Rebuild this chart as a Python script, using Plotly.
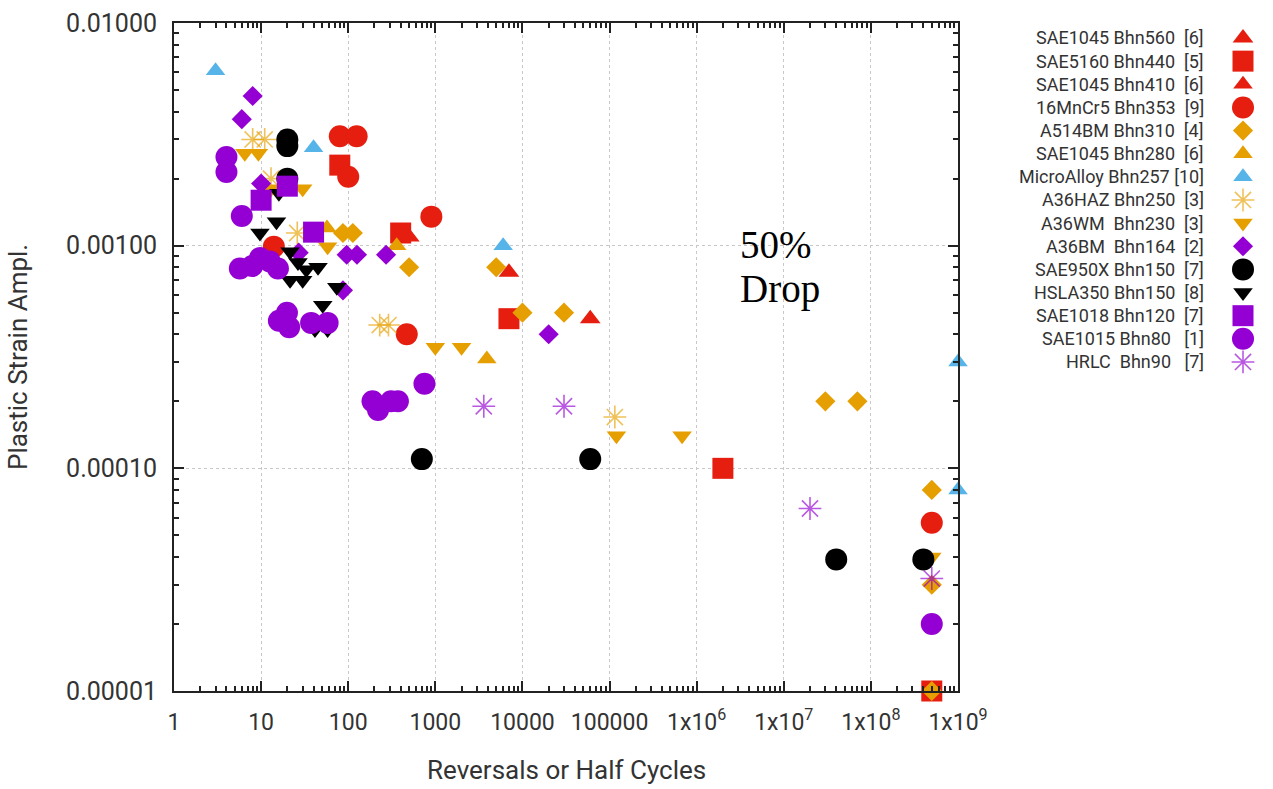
import plotly.graph_objects as go

W, H = 1273, 789

# ---------------- data ----------------
labels = [
    "SAE1045 Bhn560\u00a0\u00a0[6]",
    "SAE5160 Bhn440\u00a0\u00a0[5]",
    "SAE1045 Bhn410\u00a0\u00a0[6]",
    "16MnCr5 Bhn353\u00a0\u00a0[9]",
    "A514BM Bhn310\u00a0\u00a0[4]",
    "SAE1045 Bhn280\u00a0\u00a0[6]",
    "MicroAlloy Bhn257 [10]",
    "A36HAZ Bhn250\u00a0\u00a0[3]",
    "A36WM\u00a0\u00a0Bhn230\u00a0\u00a0[3]",
    "A36BM\u00a0\u00a0Bhn164\u00a0\u00a0[2]",
    "SAE950X Bhn150\u00a0\u00a0[7]",
    "HSLA350 Bhn150\u00a0\u00a0[8]",
    "SAE1018 Bhn120\u00a0\u00a0[7]",
    "SAE1015 Bhn80\u00a0\u00a0\u00a0[1]",
    "HRLC\u00a0\u00a0Bhn90\u00a0\u00a0\u00a0[7]",
]

sae1045_560_x = [7000, 60000]
sae1045_560_y = [0.00076, 0.00047]

sae5160_440_x = [80, 400, 7000, 2e6, 5e8]
sae5160_440_y = [0.0023, 0.00114, 0.00047, 0.0001, 0.00001]

sae1045_410_x = [510]
sae1045_410_y = [0.00109]

mncr5_353_x = [80, 125, 100, 900, 470, 14, 5e8]
mncr5_353_y = [0.0031, 0.0031, 0.00204, 0.00135, 0.0004, 0.00099, 0.000057]

a514bm_310_x = [87, 113, 500, 5000, 10000, 30000, 3e7, 7e7, 5e8, 5e8, 5e8]
a514bm_310_y = [0.00114, 0.00114, 0.0008, 0.0008, 0.0005, 0.0005, 0.0002, 0.0002, 0.00008, 0.00003, 0.00001]

sae1045_280_x = [57, 360, 3900]
sae1045_280_y = [0.0012, 0.001, 0.00031]

microalloy_257_x = [3, 40, 6000, 1e9, 1e9]
microalloy_257_y = [0.0061, 0.00275, 0.001, 0.0003, 0.00008]

a36haz_250_x = [8, 11, 13, 26, 230, 290, 115000]
a36haz_250_y = [0.003, 0.003, 0.002, 0.00114, 0.00044, 0.00044, 0.00017]

a36wm_230_x = [6.5, 9.3, 13, 30, 58, 1000, 2000, 120000, 680000, 5e8]
a36wm_230_y = [0.0026, 0.0026, 0.0018, 0.0018, 0.00099, 0.00035, 0.00035, 0.00014, 0.00014, 0.00004]

a36bm_164_x = [8, 6, 10, 96, 126, 272, 20000, 87, 27]
a36bm_164_y = [0.0047, 0.0037, 0.0019, 0.00091, 0.00091, 0.00091, 0.0004, 0.00063, 0.00093]

sae950x_150_x = [20, 20, 20, 700, 60000, 4e7, 4e8]
sae950x_150_y = [0.003, 0.0028, 0.002, 0.00011, 0.00011, 0.000039, 0.000039]

hsla350_150_x = [16, 15, 9.7, 21.5, 26.5, 45, 21.5, 30, 74, 51, 41.5, 58, 33]
hsla350_150_y = [0.00172, 0.00128, 0.00114, 0.00094, 0.00084, 0.0008, 0.0007, 0.0007, 0.00065, 0.00054, 0.00042, 0.00042, 0.00078]

sae1018_120_x = [10, 20, 40]
sae1018_120_y = [0.0016, 0.00185, 0.00115]

sae1015_80_x = [4, 4, 6, 5.7, 7.9, 9.7, 12.6, 15.6, 16, 19.8, 21, 37.5, 58, 750, 190, 220, 310, 372, 5e8]
sae1015_80_y = [0.0025, 0.00214, 0.00136, 0.00079, 0.00081, 0.00088, 0.00085, 0.00079, 0.00046, 0.0005,
                0.00043, 0.00045, 0.00045, 0.00024, 0.0002, 0.000183, 0.0002, 0.0002, 0.00002]

hrlc_90_x = [3600, 30000, 2e7, 5e8]
hrlc_90_y = [0.00019, 0.00019, 0.000066, 0.000032]

x_tickvals = [1, 10, 100, 1000, 1e4, 1e5, 1e6, 1e7, 1e8, 1e9]
x_ticktext = ["1", "10", "100", "1000", "10000", "100000",
              "1x10<sup>6</sup>", "1x10<sup>7</sup>", "1x10<sup>8</sup>", "1x10<sup>9</sup>"]
y_tickvals = [1e-5, 1e-4, 1e-3, 1e-2]
y_ticktext = ["0.00001", "0.00010", "0.00100", "0.01000"]

# ---------------- styles ----------------
RED = "#E51E10"
ORANGE = "#E69F00"
BLUE = "#56B4E9"
PURPLE = "#9400D3"
BLACK = "#000000"

series = [
    (sae1045_560_x, sae1045_560_y, "triangle-up", RED, 18),
    (sae5160_440_x, sae5160_440_y, "square", RED, 21),
    (sae1045_410_x, sae1045_410_y, "triangle-up", RED, 17),
    (mncr5_353_x, mncr5_353_y, "circle", RED, 22),
    (a514bm_310_x, a514bm_310_y, "diamond", ORANGE, 15.5),
    (sae1045_280_x, sae1045_280_y, "triangle-up", ORANGE, 17),
    (microalloy_257_x, microalloy_257_y, "triangle-up", BLUE, 17),
    (a36haz_250_x, a36haz_250_y, "asterisk-open", ORANGE, 19),
    (a36wm_230_x, a36wm_230_y, "triangle-down", ORANGE, 17),
    (a36bm_164_x, a36bm_164_y, "diamond", PURPLE, 15.5),
    (sae950x_150_x, sae950x_150_y, "circle", BLACK, 22),
    (hsla350_150_x, hsla350_150_y, "triangle-down", BLACK, 17),
    (sae1018_120_x, sae1018_120_y, "square", PURPLE, 21),
    (sae1015_80_x, sae1015_80_y, "circle", PURPLE, 22),
    (hrlc_90_x, hrlc_90_y, "asterisk-open", PURPLE, 19),
]


def marker_for(sym, col, size):
    if sym.startswith("asterisk"):
        return dict(symbol=sym, size=size, color=col, opacity=0.65,
                    line=dict(color=col, width=1.6))
    return dict(symbol=sym, size=size, color=col, line=dict(width=0))


fig = go.Figure()
for (xs, ys, sym, col, size), lab in zip(series, labels):
    fig.add_trace(go.Scatter(x=xs, y=ys, mode="markers", name=lab,
                             marker=marker_for(sym, col, size),
                             showlegend=False, cliponaxis=False,
                             xaxis="x", yaxis="y"))

# custom key (text right-aligned, symbol to the right, like gnuplot)
n = len(labels)
for i, ((xs, ys, sym, col, size), lab) in enumerate(zip(series, labels)):
    fig.add_trace(go.Scatter(x=[0.5], y=[i], mode="markers",
                             marker=marker_for(sym, col, size),
                             showlegend=False, hoverinfo="skip",
                             xaxis="x2", yaxis="y2", cliponaxis=False))
    fig.add_annotation(text=lab, xref="paper", yref="y2", x=1206 / W, y=i,
                       xanchor="right", yanchor="middle", showarrow=False,
                       font=dict(family="Roboto", size=18, color="#333333"))

TICKFONT_X = dict(family="Roboto", size=23, color="#333333")
TICKFONT_Y = dict(family="Roboto", size=25, color="#333333")
TITLEFONT = dict(family="Roboto", size=26, color="#333333")

minor_x = [k * 10 ** e for e in range(0, 9) for k in range(2, 10)]
minor_y = [k * 10 ** e for e in range(-5, -2) for k in range(2, 10)]

fig.update_layout(
    width=W, height=H,
    showlegend=False,
    margin=dict(l=0, r=0, t=0, b=0, pad=0, autoexpand=False),
    paper_bgcolor="white", plot_bgcolor="white",
    xaxis=dict(type="log", range=[0, 9], domain=[174 / W, 958 / W],
               tickmode="array", tickvals=x_tickvals, ticktext=x_ticktext,
               ticks="inside", ticklen=10, tickwidth=1.5, tickcolor="#222222",
               showline=True, linecolor="#222222", linewidth=2, mirror="allticks",
               showgrid=True, gridcolor="#c8c8c8", griddash="dot", gridwidth=1,
               zeroline=False, tickfont=TICKFONT_X, ticklabelstandoff=9,
               automargin=False,
               minor=dict(tickmode="array", tickvals=minor_x, ticks="inside",
                          ticklen=5, tickwidth=1.5, tickcolor="#222222", showgrid=False)),
    yaxis=dict(type="log", range=[-5, -2], domain=[98 / H, 766 / H],
               tickmode="array", tickvals=y_tickvals, ticktext=y_ticktext,
               ticks="inside", ticklen=10, tickwidth=1.5, tickcolor="#222222",
               showline=True, linecolor="#222222", linewidth=2, mirror="allticks",
               showgrid=True, gridcolor="#c8c8c8", griddash="dot", gridwidth=1,
               zeroline=False, tickfont=TICKFONT_Y, ticklabelstandoff=10,
               automargin=False,
               minor=dict(tickmode="array", tickvals=minor_y, ticks="inside",
                          ticklen=5, tickwidth=1.5, tickcolor="#222222", showgrid=False)),
    xaxis2=dict(domain=[1223 / W, 1263 / W], range=[0, 1], visible=False,
                fixedrange=True, automargin=False),
    yaxis2=dict(domain=[(H - (38 + 14.5 * 23.14)) / H, (H - (38 - 0.5 * 23.14)) / H],
                range=[n - 0.5, -0.5], visible=False, fixedrange=True, anchor="x2",
                automargin=False),
)

# axis titles and the in-plot label
fig.add_annotation(text="Plastic Strain Ampl.", xref="paper", yref="paper",
                   x=18 / W, y=1 - 357 / H, textangle=-90, showarrow=False,
                   xanchor="center", yanchor="middle", font=TITLEFONT)
fig.add_annotation(text="Reversals or Half Cycles", xref="paper", yref="paper",
                   x=566 / W, y=1 - 770 / H, showarrow=False,
                   xanchor="center", yanchor="middle", font=TITLEFONT)
fig.add_annotation(text="50%", xref="paper", yref="paper", x=738 / W, y=1 - 245 / H,
                   showarrow=False, xanchor="left", yanchor="middle",
                   font=dict(family="Liberation Serif", size=39, color="#000000"))
fig.add_annotation(text="Drop", xref="paper", yref="paper", x=738 / W, y=1 - 289 / H,
                   showarrow=False, xanchor="left", yanchor="middle",
                   font=dict(family="Liberation Serif", size=39, color="#000000"))

fig.write_html("out.html")
